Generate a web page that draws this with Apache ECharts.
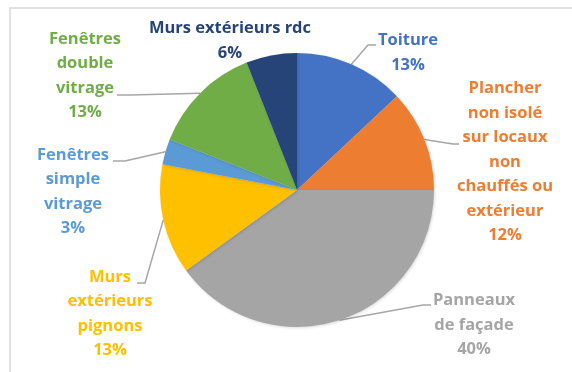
<!DOCTYPE html>
<html>
<head>
<meta charset="utf-8">
<style>
  html, body { margin: 0; padding: 0; background: #ffffff; }
  #chart { width: 572px; height: 372px; }
</style>
<script src="https://cdn.jsdelivr.net/npm/echarts@6/dist/echarts.min.js"></script>
</head>
<body>
<div id="chart"></div>
<script>
// Répartition des déperditions par poste
const categories = [
  'Toiture',
  'Plancher\nnon isolé\nsur locaux\nnon\nchauffés ou\nextérieur',
  'Panneaux\nde façade',
  'Murs\nextérieurs\npignons',
  'Fenêtres\nsimple\nvitrage',
  'Fenêtres\ndouble\nvitrage',
  'Murs extérieurs rdc'
];
const shares = [13, 12, 40, 13, 3, 13, 6];
const colors = ['#4472C4', '#ED7D31', '#A5A5A5', '#FFC000', '#5B9BD5', '#70AD47', '#264478'];

// Label block placement: centre x, centre y, leader bend point, leader end point
const labelSpots = [
  { x: 408, y: 53,  bend: [368, 45],  end: [376, 45] },
  { x: 505, y: 162, bend: [453, 144], end: [459, 144] },
  { x: 474, y: 325, bend: [423, 305], end: [431, 305] },
  { x: 110, y: 314, bend: [145, 283], end: [137, 283] },
  { x: 73,  y: 192, bend: [125, 161], end: [113, 161] },
  { x: 85,  y: 76,  bend: [130, 95],  end: [117, 95] },
  { x: 230, y: 41,  bend: null,       end: null }
];

const chart = echarts.init(document.getElementById('chart'), null, { renderer: 'canvas' });

const data = categories.map((name, i) => ({
  name: name,
  value: shares[i],
  itemStyle: { color: colors[i] },
  label: { color: colors[i] },
  labelLine: { show: labelSpots[i].bend !== null }
}));

chart.setOption({
  animation: false,
  backgroundColor: '#ffffff',
  graphic: [{
    type: 'rect',
    shape: { x: 10, y: 8, width: 620, height: 420 },
    style: { fill: 'none', stroke: '#d9d9d9', lineWidth: 1.5 },
    silent: true
  }],
  series: [{
    type: 'pie',
    center: [297, 190],
    radius: 137,
    startAngle: 90,
    clockwise: true,
    avoidLabelOverlap: false,
    itemStyle: {
      shadowBlur: 3,
      shadowColor: 'rgba(0,0,0,0.15)',
      shadowOffsetX: 1,
      shadowOffsetY: 1
    },
    label: {
      show: true,
      position: 'outside',
      formatter: '{b}\n{c}%',
      fontFamily: 'Open Sans',
      fontWeight: 'bold',
      fontSize: 16.5,
      lineHeight: 24.5,
      align: 'center'
    },
    labelLine: {
      show: true,
      length: 10,
      length2: 10,
      lineStyle: { color: '#a6a6a6', width: 1.5 }
    },
    labelLayout: function (params) {
      const spot = labelSpots[params.dataIndex];
      const out = {
        x: spot.x,
        y: spot.y,
        align: 'center',
        verticalAlign: 'middle'
      };
      if (spot.bend && params.labelLinePoints) {
        out.labelLinePoints = [params.labelLinePoints[0], spot.bend, spot.end];
      }
      return out;
    },
    data: data
  }]
});
</script>
</body>
</html>
